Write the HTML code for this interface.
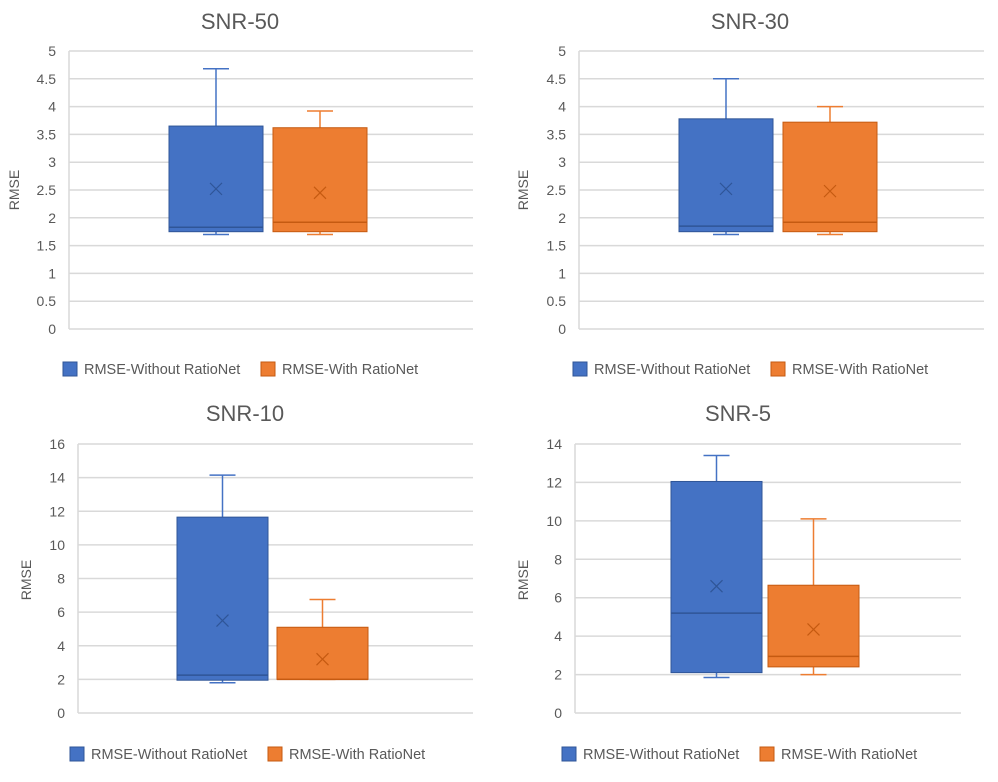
<!DOCTYPE html>
<html><head><meta charset="utf-8">
<style>
html,body{margin:0;padding:0;background:#fff;}
svg{display:block;font-family:"Liberation Sans",sans-serif;}
</style></head>
<body>
<svg id="chart" width="998" height="782" viewBox="0 0 998 782" xmlns="http://www.w3.org/2000/svg"></svg>
<script>
const chartTitles = ["SNR-50","SNR-30","SNR-10","SNR-5"];
const axisMax = [5,5,16,14];
const tickStep = [0.5,0.5,2,2];
const seriesNames = ["RMSE-Without RatioNet","RMSE-With RatioNet"];
// [min, q1, median, q3, max, mean]
const withoutStats = [
  [1.7,1.75,1.83,3.65,4.68,2.52],
  [1.7,1.75,1.85,3.78,4.5,2.52],
  [1.8,1.95,2.25,11.65,14.15,5.5],
  [1.85,2.1,5.2,12.05,13.4,6.6]
];
const withStats = [
  [1.7,1.75,1.92,3.62,3.92,2.45],
  [1.7,1.75,1.92,3.72,4.0,2.48],
  [2.0,2.0,2.0,5.1,6.75,3.2],
  [2.0,2.4,2.95,6.65,10.1,4.35]
];

const layouts = [
  {pl:69,pr:473,yt:51,yb:329,tx:240,ty:29,bx:[169,273],bw:94,tick:56,ax:19,ay:190,ly:369,lx:[63,261]},
  {pl:579,pr:984,yt:51,yb:329,tx:750,ty:29,bx:[679,783],bw:94,tick:566,ax:528,ay:190,ly:369,lx:[573,771]},
  {pl:78,pr:473,yt:444,yb:713,tx:245,ty:421,bx:[177,277],bw:91,tick:65,ax:31,ay:580,ly:754,lx:[70,268]},
  {pl:575,pr:961,yt:444,yb:713,tx:738,ty:421,bx:[671,768],bw:91,tick:562,ax:528,ay:580,ly:754,lx:[562,760]}
];
const fills=["#4472c4","#ed7d31"], strokes=["#2f5597","#c55a11"];
const NS="http://www.w3.org/2000/svg";
const svg=document.getElementById('chart');
function mk(tag,attrs,parent,text){const e=document.createElementNS(NS,tag);for(const k in attrs)e.setAttribute(k,attrs[k]);if(text!==undefined)e.textContent=text;(parent||svg).appendChild(e);return e;}

chartTitles.forEach((title,i)=>{
  const L=layouts[i];
  const g=mk('g',{});
  
  
  const y=v=>L.yb-(v/axisMax[i])*(L.yb-L.yt);
  const t=mk('text',{x:L.tx,y:L.ty,'text-anchor':'middle','font-size':22,fill:'#595959'},g,title);
  
  
  for(let v=0; v<=axisMax[i]+1e-9; v+=tickStep[i]){
    const vv=Math.round(v*10)/10;
    const gl=mk('line',{x1:L.pl,x2:L.pr,y1:y(vv),y2:y(vv),stroke:'#d9d9d9','stroke-width':1.5},g);
    
    
    const tl=mk('text',{x:L.tick,y:y(vv)+5,'text-anchor':'end','font-size':14,fill:'#595959'},g,String(vv));
    
    
  }
  const al=mk('line',{x1:L.pl,x2:L.pl,y1:L.yt,y2:L.yb,stroke:'#d9d9d9','stroke-width':1.5},g);
  
  
  const at=mk('text',{x:L.ax,y:L.ay,'text-anchor':'middle','font-size':14,fill:'#595959',transform:`rotate(-90 ${L.ax} ${L.ay})`},g,'RMSE');
  
  
  [withoutStats[i],withStats[i]].forEach((s,k)=>{
    const x0=L.bx[k], w=L.bw, cx=x0+w/2;
    const bg=mk('g',{},g);
    
    
    const st=strokes[k];
    mk('line',{x1:cx,x2:cx,y1:y(s[4]),y2:y(s[3]),stroke:fills[k],'stroke-width':1.5},bg);
    mk('line',{x1:cx-13,x2:cx+13,y1:y(s[4]),y2:y(s[4]),stroke:fills[k],'stroke-width':1.5},bg);
    mk('line',{x1:cx,x2:cx,y1:y(s[1]),y2:y(s[0]),stroke:fills[k],'stroke-width':1.5},bg);
    mk('line',{x1:cx-13,x2:cx+13,y1:y(s[0]),y2:y(s[0]),stroke:fills[k],'stroke-width':1.5},bg);
    mk('rect',{x:x0,y:y(s[3]),width:w,height:y(s[1])-y(s[3]),fill:fills[k],stroke:st,'stroke-width':1},bg);
    mk('line',{x1:x0,x2:x0+w,y1:y(s[2]),y2:y(s[2]),stroke:st,'stroke-width':1.5},bg);
    const my=y(s[5]);
    mk('path',{d:`M${cx-6} ${my-6}L${cx+6} ${my+6}M${cx+6} ${my-6}L${cx-6} ${my+6}`,stroke:st,'stroke-width':1.2},bg);
  });
  seriesNames.forEach((n,k)=>{
    const lg=mk('g',{},g);
    
    
    mk('rect',{x:L.lx[k],y:L.ly-7,width:14,height:14,fill:fills[k],stroke:strokes[k]},lg);
    mk('text',{x:L.lx[k]+21,y:L.ly+5,'font-size':14.5,fill:'#595959'},lg,n);
  });
});
</script>
</body></html>
